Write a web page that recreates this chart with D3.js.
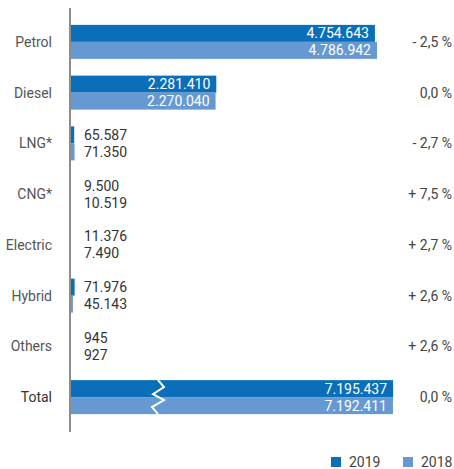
<!DOCTYPE html>
<html lang="en">
<head>
<meta charset="UTF-8">
<script src="https://d3js.org/d3.v7.min.js"></script>
<style>
  body { margin: 0; background: #fff; }
  svg { font-family: Roboto, "Open Sans", sans-serif; }
  .cat { fill: #555; font-size: 14px; text-anchor: end; }
  .pct { fill: #444; font-size: 14px; text-anchor: end; }
  .val { font-size: 14px; }
</style>
</head>
<body>
<script>
  // chart data
  var categories = ["Petrol", "Diesel", "LNG*", "CNG*", "Electric", "Hybrid", "Others", "Total"];
  var values2019 = [4754643, 2281410, 65587, 9500, 11376, 71976, 945, 7195437];
  var values2018 = [4786942, 2270040, 71350, 10519, 7490, 45143, 927, 7192411];
  var changes = ["- 2,5 %", "0,0 %", "- 2,7 %", "+ 7,5 %", "+ 2,7 %", "+ 2,6 %", "+ 2,6 %", "0,0 %"];
  var years = ["2019", "2018"];

  var color2019 = "#0a6fb8";
  var color2018 = "#6699d1";

  var width = 454, height = 469;
  var axisX = 70;

  var fmt = function (v) { return d3.format(",")(v).replace(/,/g, "."); };

  var svg = d3.select("body").append("svg")
      .attr("width", width)
      .attr("height", height);

  var y = d3.scaleBand()
      .domain(categories)
      .range([16.5, 422.5])
      .padding(0);

  // normal scale for the categories, broken one for the total
  var x = d3.scaleLinear().domain([0, 4786942]).range([axisX, 377]);
  var xTotal = d3.scaleLinear().domain([0, 7200000]).range([axisX, 393.3]);

  var barH = 17;

  var rows = categories.map(function (c, i) {
    return { cat: c, v19: values2019[i], v18: values2018[i], pct: changes[i], total: c === "Total" };
  });

  var g = svg.selectAll("g.row")
      .data(rows)
      .enter().append("g")
      .attr("class", "row");

  g.each(function (d) {
    var sel = d3.select(this);
    var sc = d.total ? xTotal : x;
    var cy = y(d.cat) + y.bandwidth() / 2;
    var bars = [{ v: d.v19, c: color2019, y0: cy - barH }, { v: d.v18, c: color2018, y0: cy }];
    bars.forEach(function (b) {
      var w = sc(b.v) - axisX;
      sel.append("rect")
        .attr("x", axisX)
        .attr("y", b.y0)
        .attr("width", Math.max(w, 0.8))
        .attr("height", barH)
        .attr("fill", b.c);
      var inside = w > 80;
      sel.append("text")
        .attr("class", "val")
        .attr("x", inside ? sc(b.v) - 6 : axisX + 14)
        .attr("y", b.y0 + barH / 2)
        .attr("dy", "0.36em")
        .attr("text-anchor", inside ? "end" : "start")
        .attr("fill", inside ? "#fff" : "#333")
        .text(fmt(b.v));
    });

    sel.append("text")
      .attr("class", "cat")
      .attr("x", 52)
      .attr("y", cy)
      .attr("dy", "0.36em")
      .style("fill", d.total ? "#333" : null)
      .text(d.cat);

    sel.append("text")
      .attr("class", "pct")
      .attr("x", 452)
      .attr("y", cy)
      .attr("dy", "0.36em")
      .text(d.pct);

    if (d.total) {
      sel.append("path")
        .attr("d", "M158," + (cy - 17) + " L164," + (cy - 10) + " L153," + (cy - 3) +
             " L164," + (cy + 3) + " L152," + (cy + 10) + " L158," + (cy + 17))
        .attr("fill", "none")
        .attr("stroke", "#fff")
        .attr("stroke-width", 2);
    }
  });

  // axis line
  svg.append("line")
    .attr("x1", axisX).attr("x2", axisX)
    .attr("y1", 8).attr("y2", 432)
    .attr("stroke", "#8c8c8c")
    .attr("stroke-width", 2);

  // legend
  var legend = svg.selectAll("g.legend")
      .data(years)
      .enter().append("g")
      .attr("class", "legend")
      .attr("transform", function (d, i) { return "translate(" + (331 + i * 72) + ",457)"; });

  legend.append("rect")
    .attr("width", 10).attr("height", 10)
    .attr("fill", function (d, i) { return i === 0 ? color2019 : color2018; });

  legend.append("text")
    .attr("x", 18)
    .attr("y", 5)
    .attr("dy", "0.36em")
    .attr("fill", "#444")
    .style("font-size", "14px")
    .text(function (d) { return d; });
</script>
</body>
</html>
